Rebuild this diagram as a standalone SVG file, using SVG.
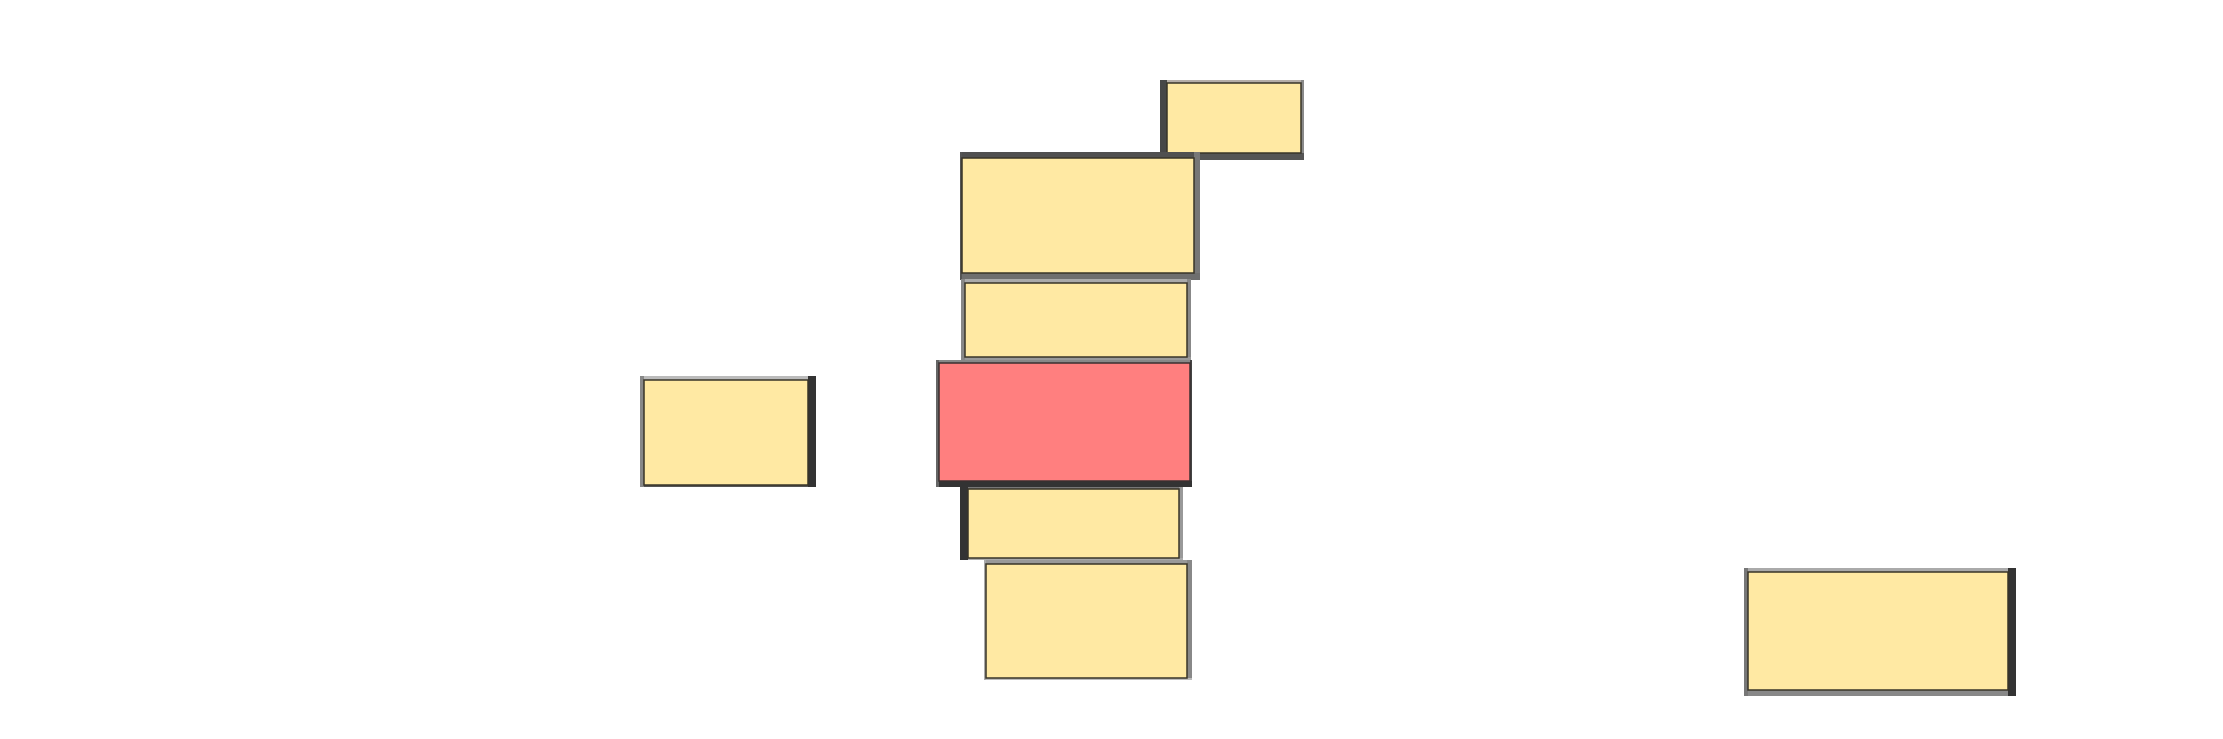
<svg xmlns="http://www.w3.org/2000/svg" width="2223" height="739" viewBox="0 0 2223 739">
<style>
.y{fill:#ffe9a3;stroke:#383428;stroke-width:1.5}
.r{fill:#ff7f7f;stroke:#3a3030;stroke-width:1.5}
</style>
<rect width="2223" height="739" fill="#ffffff"/>
<g id="node-top-right">
<rect x="1160" y="80" width="144" height="3" fill="#b5aea8"/>
<rect x="1301" y="80" width="3" height="80" fill="#8a8a8a"/>
<rect x="1160" y="153" width="144" height="7" fill="#555555"/>
<rect x="1160" y="80" width="7" height="80" fill="#474747"/>
<rect class="y" x="1167" y="83" width="134" height="70"/>
</g>
<g id="node-2">
<rect x="960" y="152" width="240" height="6" fill="#505050"/>
<rect x="1194" y="152" width="6" height="128" fill="#777777"/>
<rect x="960" y="273" width="240" height="7" fill="#6e6e6e"/>
<rect x="960" y="152" width="2" height="128" fill="#555555"/>
<rect class="y" x="962" y="158" width="232" height="115"/>
</g>
<g id="node-3">
<rect x="961" y="279" width="230" height="4" fill="#aaaaaa"/>
<rect x="1187" y="279" width="4" height="82" fill="#888888"/>
<rect x="961" y="357" width="230" height="4" fill="#999999"/>
<rect x="961" y="279" width="4" height="82" fill="#888888"/>
<rect class="y" x="965" y="283" width="222" height="74"/>
</g>
<g id="node-red">
<rect x="936" y="360" width="256" height="3" fill="#888888"/>
<rect x="1190" y="360" width="2" height="127" fill="#444444"/>
<rect x="936" y="481" width="256" height="6" fill="#333333"/>
<rect x="936" y="360" width="3" height="127" fill="#666666"/>
<rect class="r" x="939" y="363" width="251" height="118"/>
</g>
<g id="node-5">
<rect x="960" y="487" width="223" height="2" fill="#777777"/>
<rect x="1179" y="487" width="4" height="73" fill="#999999"/>
<rect x="960" y="558" width="223" height="2" fill="#aaaaaa"/>
<rect x="960" y="487" width="8" height="73" fill="#333333"/>
<rect class="y" x="968" y="489" width="211" height="69"/>
</g>
<g id="node-6">
<rect x="984" y="560" width="208" height="4" fill="#999999"/>
<rect x="1187" y="560" width="5" height="120" fill="#888888"/>
<rect x="984" y="678" width="208" height="2" fill="#bbbbbb"/>
<rect x="984" y="560" width="2" height="120" fill="#aaaaaa"/>
<rect class="y" x="986" y="564" width="201" height="114"/>
</g>
<g id="node-left">
<rect x="640" y="376" width="176" height="4" fill="#bbbbbb"/>
<rect x="640" y="485" width="176" height="2" fill="#555555"/>
<rect x="640" y="376" width="4" height="111" fill="#888888"/>
<rect x="808" y="376" width="8" height="111" fill="#333333"/>
<rect class="y" x="644" y="380" width="164" height="105"/>
</g>
<g id="node-right">
<rect x="1744" y="568" width="272" height="4" fill="#aaaaaa"/>
<rect x="1744" y="690" width="272" height="6" fill="#888888"/>
<rect x="1744" y="568" width="4" height="128" fill="#777777"/>
<rect x="2008" y="568" width="8" height="128" fill="#333333"/>
<rect class="y" x="1748" y="572" width="260" height="118"/>
</g>
<g id="connectors"></g>
</svg>
